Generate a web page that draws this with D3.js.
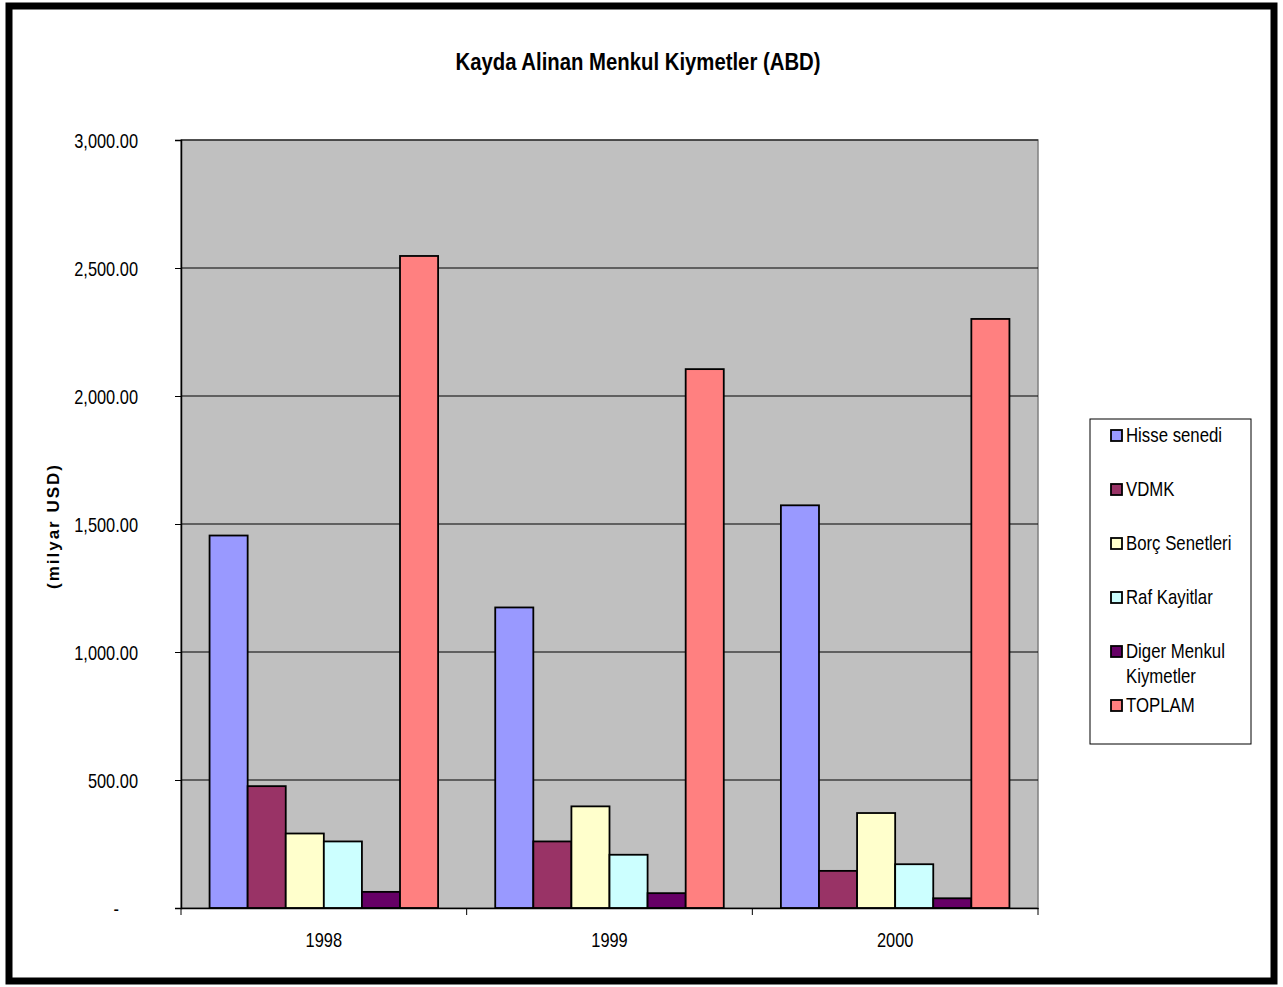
<!DOCTYPE html>
<html lang="tr">
<head>
    <meta charset="UTF-8">
    <title>Kayda Alinan Menkul Kiymetler (ABD)</title>
    <script src="https://d3js.org/d3.v7.min.js"></script>
    <style>
        body { margin: 0; background: #fff; }
        svg text { font-family: 'Liberation Sans', Arial, sans-serif; fill: #000; }
    </style>
</head>
<body>
    <svg width="1283" height="987"></svg>
    <script>
        const years = ["1998", "1999", "2000"];
        const seriesNames = ["Hisse senedi", "VDMK", "Borç Senetleri", "Raf Kayitlar", "Diger Menkul Kiymetler", "TOPLAM"];
        const seriesColors = ["#9999ff", "#993366", "#ffffcc", "#ccffff", "#660066", "#ff8080"];
        const hisse = [1455, 1174, 1573];
        const vdmk = [476, 260, 145];
        const borc = [291, 397, 371];
        const raf = [260, 208, 171];
        const diger = [63, 58, 38];
        const toplam = [2547, 2105, 2301];
        const yTicks = [0, 500, 1000, 1500, 2000, 2500, 3000];

        const allSeries = [hisse, vdmk, borc, raf, diger, toplam];

        const svg = d3.select("svg");
        const plot = {left: 181, top: 140, right: 1038, bottom: 908};
        const sx = 0.82; // condensed look of the original text

        // outer frame
        svg.append("rect")
            .attr("x", 9).attr("y", 6)
            .attr("width", 1265).attr("height", 975)
            .attr("fill", "#fff")
            .attr("stroke", "#000")
            .attr("stroke-width", 7);

        svg.append("text")
            .attr("x", 638).attr("y", 70)
            .attr("text-anchor", "middle")
            .attr("font-size", 23)
            .attr("font-weight", "bold")
            .attr("textLength", 365)
            .attr("lengthAdjust", "spacingAndGlyphs")
            .text("Kayda Alinan Menkul Kiymetler (ABD)");

        const x0 = d3.scaleBand()
            .domain(years)
            .range([plot.left, plot.right]);

        const x1 = d3.scaleBand()
            .domain(d3.range(seriesNames.length))
            .range([0, x0.bandwidth()])
            .paddingOuter(0.75);

        const y = d3.scaleLinear()
            .domain([0, 3000])
            .range([plot.bottom, plot.top]);

        const g = svg.append("g");

        g.append("rect")
            .attr("x", plot.left).attr("y", plot.top)
            .attr("width", plot.right - plot.left)
            .attr("height", plot.bottom - plot.top)
            .attr("fill", "#c0c0c0")
            .attr("stroke", "#808080")
            .attr("stroke-width", 1.5);

        // gridlines
        g.selectAll(".grid")
            .data(yTicks.slice(1))
            .enter().append("line")
            .attr("x1", plot.left).attr("x2", plot.right)
            .attr("y1", d => y(d)).attr("y2", d => y(d))
            .attr("stroke", "#000")
            .attr("stroke-width", 1);

        // bars
        const groups = g.selectAll(".year")
            .data(years)
            .enter().append("g")
            .attr("transform", d => `translate(${x0(d)},0)`);

        groups.selectAll("rect")
            .data((yr, i) => allSeries.map((s, k) => ({k, v: s[i]})))
            .enter().append("rect")
            .attr("x", d => x1(d.k))
            .attr("width", x1.bandwidth())
            .attr("y", d => y(d.v))
            .attr("height", d => y(0) - y(d.v))
            .attr("fill", d => seriesColors[d.k])
            .attr("stroke", "#000")
            .attr("stroke-width", 1.8);

        // y axis
        const yAxis = g.append("g")
            .attr("transform", `translate(${plot.left},0)`)
            .call(d3.axisLeft(y).tickValues(yTicks).tickSize(6).tickFormat(d => d === 0 ? "-" : d3.format(",.2f")(d)));
        yAxis.select(".domain").attr("stroke", "#000").attr("stroke-width", 1.5);
        yAxis.selectAll(".tick line").attr("stroke", "#000");
        yAxis.selectAll(".tick text")
            .attr("x", 0).attr("dy", "0.35em")
            .attr("font-size", 20)
            .attr("font-family", "'Liberation Sans', Arial, sans-serif")
            .attr("transform", d => d === 0 ? `translate(-62,0) scale(${sx},1)` : `translate(-43,0) scale(${sx},1)`);

        // x axis
        const xAxis = g.append("g")
            .attr("transform", `translate(0,${plot.bottom})`)
            .call(d3.axisBottom(x0).tickSize(0).tickPadding(0));
        xAxis.select(".domain").attr("stroke", "#000").attr("stroke-width", 1.5);
        xAxis.selectAll(".tick text")
            .attr("y", 0).attr("dy", 0)
            .attr("font-size", 20)
            .attr("font-family", "'Liberation Sans', Arial, sans-serif")
            .attr("transform", `translate(0,39) scale(${sx},1)`);

        g.selectAll(".xtick")
            .data([...years.map(d => x0(d)), plot.right])
            .enter().append("line")
            .attr("x1", d => d).attr("x2", d => d)
            .attr("y1", plot.bottom).attr("y2", plot.bottom + 7)
            .attr("stroke", "#000");

        // axis title
        svg.append("text")
            .attr("transform", "translate(59,526) rotate(-90)")
            .attr("text-anchor", "middle")
            .attr("font-size", 17)
            .attr("font-weight", "bold")
            .attr("letter-spacing", 2)
            .text("(milyar USD)");

        // legend
        const legend = svg.append("g").attr("transform", "translate(1090,419)");
        legend.append("rect")
            .attr("width", 161).attr("height", 325)
            .attr("fill", "#fff")
            .attr("stroke", "#000")
            .attr("stroke-width", 1);

        const rowY = [16, 70, 124, 178, 232, 286];
        const items = legend.selectAll(".item")
            .data(seriesNames)
            .enter().append("g")
            .attr("transform", (d, i) => `translate(0,${rowY[i]})`);

        items.append("rect")
            .attr("x", 21).attr("y", -5)
            .attr("width", 11).attr("height", 11)
            .attr("fill", (d, i) => seriesColors[i])
            .attr("stroke", "#000")
            .attr("stroke-width", 1.8);

        items.each(function(d) {
            const words = d === "Diger Menkul Kiymetler" ? ["Diger Menkul", "Kiymetler"] : [d];
            const t = d3.select(this).append("text")
                .attr("font-size", 20)
                .attr("transform", `translate(36,0) scale(0.84,1)`);
            words.forEach((w, j) => {
                t.append("tspan")
                    .attr("x", 0)
                    .attr("y", j * 25)
                    .attr("dy", "0.35em")
                    .text(w);
            });
        });
    </script>
</body>
</html>
